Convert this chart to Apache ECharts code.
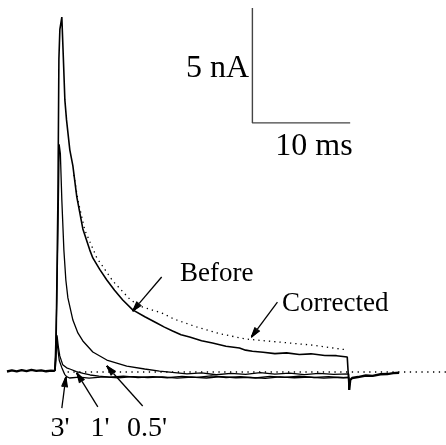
<!DOCTYPE html>
<html><head><meta charset="utf-8">
<script src="https://cdn.jsdelivr.net/npm/echarts@6/dist/echarts.min.js"></script>
<style>html,body{margin:0;padding:0;background:#fff}#c{width:446px;height:445px}</style>
</head><body><div id="c"></div>
<script>
// x: time in ms from pulse onset, y: current in nA
const baselinePre = [[-4.9,0.02],[-4.4,0.07],[-3.9,0.03],[-3.4,0.08],[-2.9,0.04],[-2.4,0.09],[-1.9,0.05],[-1.4,0.07],[-0.9,0.03],[-0.4,0.06],[0,0.05]];
const before = [[0,0.05],[0.1,0.5],[0.31,7.5],[0.41,13.6],[0.51,14.9],[0.71,15.43],[0.87,13.6],[1.02,11.83],[1.19,10.96],[1.53,9.65],[1.84,8.96],[2.24,7.61],[2.86,6.22],[3.57,5.3],[3.88,4.96],[4.6,4.45],[5.31,4.0],[6.1,3.55],[6.94,3.13],[7.96,2.7],[9.2,2.4],[10.41,2.13],[11.2,1.95],[12.04,1.78],[12.9,1.62],[13.78,1.52],[15.0,1.36],[16.12,1.26],[17.5,1.12],[18.88,1.04],[19.5,0.95],[20.2,0.9],[21.3,0.86],[22.5,0.8],[23.7,0.83],[25.0,0.76],[26.2,0.79],[27.6,0.72],[28.8,0.71],[29.9,0.65],[30.05,0.64],[30.1,-0.78]];
const halfMin = [[0,0.04],[0.2,3.1],[0.36,7.5],[0.44,9.9],[0.56,9.5],[0.71,7.48],[0.92,5.3],[1.12,4.0],[1.33,3.22],[1.84,2.26],[2.35,1.7],[2.86,1.35],[3.88,0.87],[5.31,0.52],[7.35,0.26],[9.18,0.13],[10.7,0.04],[12,-0.02],[13.5,-0.08],[15,-0.04],[16.5,-0.12],[18,-0.06],[19.5,-0.1],[21,-0.03],[22.5,-0.09],[24,-0.05],[25.5,-0.11],[27,-0.06],[28.5,-0.1],[30.05,-0.08],[30.1,-0.7]];
const oneMin = [[0,0.03],[0.1,0.9],[0.22,1.6],[0.35,1.1],[0.5,0.7],[0.8,0.32],[1.2,0.18],[1.6,0.12],[2.2,0.02],[2.9,-0.06],[3.6,-0.13],[4.5,-0.18],[5.6,-0.22],[7,-0.18],[8.5,-0.24],[10,-0.2],[11.5,-0.25],[13,-0.19],[14.5,-0.23],[16,-0.17],[17.5,-0.24],[19,-0.2],[20.5,-0.26],[22,-0.19],[23.5,-0.23],[25,-0.18],[26.5,-0.24],[28,-0.2],[29.5,-0.25],[30.05,-0.22],[30.1,-0.75]];
const threeMin = [[0,0.06],[0.1,0.8],[0.2,1.5],[0.3,1.0],[0.45,0.5],[0.7,0.2],[1.0,-0.1],[1.2,-0.2],[1.5,-0.26],[2.5,-0.22],[3.5,-0.27],[5,-0.21],[6.5,-0.25],[8,-0.2],[9.5,-0.24],[11,-0.21],[12.5,-0.27],[14,-0.22],[15.5,-0.26],[17,-0.2],[18.5,-0.25],[20,-0.23],[21.5,-0.28],[23,-0.21],[24.5,-0.25],[26,-0.22],[27.5,-0.27],[29,-0.23],[30.05,-0.25],[30.1,-0.78]];
const corrected = [[1.94,8.57],[2.35,7.48],[3.06,6.17],[4.29,4.96],[5.92,3.96],[7.65,3.17],[8.67,2.87],[11.02,2.55],[12.2,2.3],[14.49,1.96],[17.0,1.65],[19.6,1.43],[22.96,1.3],[26.3,1.17],[29.9,0.96]];
const correctedBase = [[1.3,0],[40,0]];
const tail = [[30.1,-0.78],[30.2,-0.35],[30.4,-0.26],[31,-0.22],[31.8,-0.15],[32.5,-0.17],[33.3,-0.1],[34,-0.09],[34.6,-0.05],[35.2,-0.03]];
const scaleBar = [[20.2,15.83],[20.2,10.83],[30.2,10.83]];
const arrows = [
  {from:[10.92,4.13], to:[7.96,2.65]},
  {from:[22.76,3.04], to:[20.1,1.52]},
  {from:[0.71,-1.57], to:[1.12,-0.22]},
  {from:[4.39,-1.52], to:[2.24,-0.04]},
  {from:[8.98,-1.48], to:[5.31,0.26]}
];
const labelBefore = 'Before', labelCorrected = 'Corrected';
const labelMins = ["3'", "1'", "0.5'"];
const scaleY = '5 nA', scaleX = '10 ms';

const chart = echarts.init(document.getElementById('c'), null, {renderer:'canvas'});
const solid = (name, data, w) => ({name, type:'line', data, showSymbol:false, symbol:'none', smooth:false,
  lineStyle:{color:'#000', width:w}, z:3, silent:true});
const serif = '"Liberation Serif","DejaVu Serif",serif';
chart.setOption({
  animation:false,
  backgroundColor:'#fff',
  grid:{left:6, top:4, width:441, height:414},
  xAxis:{type:'value', min:-5, max:40, show:false},
  yAxis:{type:'value', min:-2, max:16, show:false},
  series:[
    solid('pre', baselinePre, 2.4),
    solid('Before', before, 1.6),
    solid("0.5'", halfMin, 1.3),
    solid("1'", oneMin, 1.3),
    solid("3'", threeMin, 1.3),
    solid('tail', tail, 2.4),
    {name:'Corrected', type:'line', data:corrected, showSymbol:false, symbol:'none',
      lineStyle:{color:'#000', width:1.3, type:[1.3,4]}, z:2, silent:true},
    {name:'Corrected0', type:'line', data:correctedBase, showSymbol:false, symbol:'none',
      lineStyle:{color:'#000', width:1.3, type:[1.3,4.5]}, z:2, silent:true},
    {name:'scale', type:'line', data:scaleBar, showSymbol:false, symbol:'none',
      lineStyle:{color:'#444', width:1.4}, silent:true}
  ]
});

const g = [];
arrows.forEach(a => {
  const p0 = chart.convertToPixel({gridIndex:0}, a.from);
  const p1 = chart.convertToPixel({gridIndex:0}, a.to);
  const dx = p1[0]-p0[0], dy = p1[1]-p0[1];
  const L = Math.hypot(dx,dy), ux = dx/L, uy = dy/L;
  const hl = 10, hw = 3;
  const bx = p1[0]-ux*hl, by = p1[1]-uy*hl;
  g.push({type:'line', z:50, shape:{x1:p0[0], y1:p0[1], x2:bx, y2:by}, style:{stroke:'#000', lineWidth:1.3}});
  for (let k = -4; k <= 4; k++) {
    const f = k/4*hw;
    g.push({type:'line', z:51, shape:{x1:p1[0], y1:p1[1], x2:bx-uy*f, y2:by+ux*f}, style:{stroke:'#000', lineWidth:1.1}});
  }
});
const txt = (text, x, y, size, align) => ({type:'text', x, y, style:{text, font:size+'px '+serif, fill:'#000', align, verticalAlign:'middle'}});
g.push(txt(scaleY, 249, 69, 32, 'right'));
g.push(txt(scaleX, 314, 147, 32, 'center'));
g.push(txt(labelBefore, 180, 274, 27, 'left'));
g.push(txt(labelCorrected, 282, 304, 27, 'left'));
g.push(txt(labelMins[0], 60, 429, 28, 'center'));
g.push(txt(labelMins[1], 100, 429, 28, 'center'));
g.push(txt(labelMins[2], 147, 429, 28, 'center'));
chart.setOption({graphic:g});
</script></body></html>
